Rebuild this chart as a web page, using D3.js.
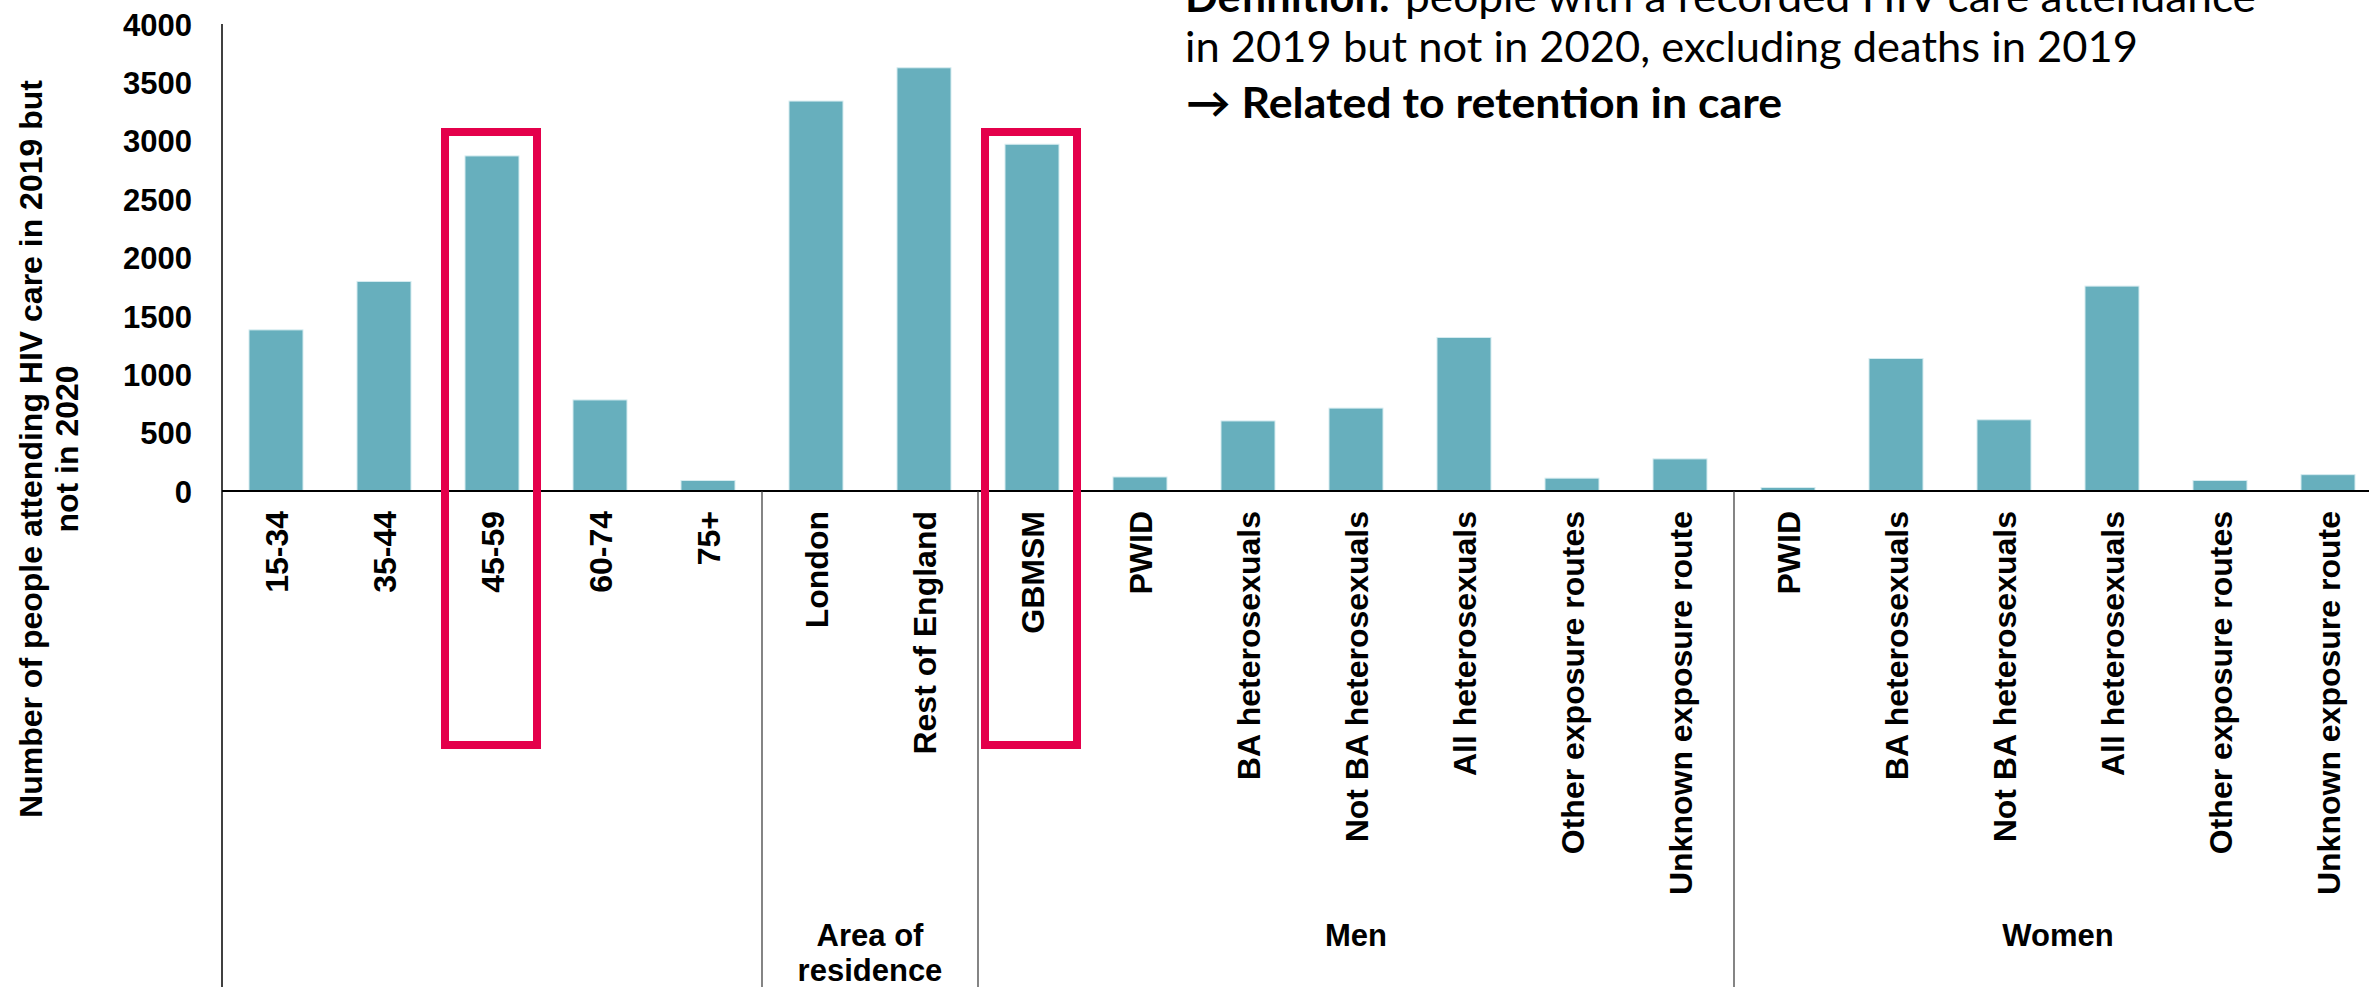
<!DOCTYPE html>
<html>
<head>
<meta charset="utf-8">
<script src="https://cdn.jsdelivr.net/npm/d3@7"></script>
<style>
  html, body { margin: 0; padding: 0; background: #ffffff; }
  svg { display: block; }
</style>
</head>
<body>
<script>
// ---------- data ----------
const categories = ["15-34", "35-44", "45-59", "60-74", "75+",
  "London", "Rest of England",
  "GBMSM", "PWID", "BA heterosexuals", "Not BA heterosexuals", "All heterosexuals", "Other exposure routes", "Unknown exposure route",
  "PWID", "BA heterosexuals", "Not BA heterosexuals", "All heterosexuals", "Other exposure routes", "Unknown exposure route"];
const values = [1380, 1795, 2870, 780, 90,
  3340, 3625,
  2970, 120, 600, 710, 1315, 110, 275,
  30, 1135, 610, 1755, 90, 140];
const groupNames = ["", "Area of\nresidence", "Men", "Women"];
const groupSizes = [5, 2, 7, 6];
const highlighted = [2, 7];           // 45-59 and GBMSM
const yTicks = [0, 500, 1000, 1500, 2000, 2500, 3000, 3500, 4000];
const yTitle = ["Number of people attending HIV care in 2019 but", "not in 2020"];
const noteLine1Bold = "Definition:";
const noteLine1 = "people with a recorded HIV care attendance";
const noteLine2 = "in 2019 but not in 2020, excluding deaths in 2019";
const noteLine3 = "\u2192 Related to retention in care";

// ---------- layout ----------
const W = 2369, H = 987;
const axisX = 222, baseY = 491, topY = 24;
const font = "'Liberation Sans', Arial, Helvetica, sans-serif";
const barColor = "#67AFBD";
const red = "#E4004B";

const svg = d3.select("body").append("svg").attr("width", W).attr("height", H)
  .style("font-family", font);
svg.append("rect").attr("width", W).attr("height", H).attr("fill", "#fff");

const ids = categories.map((d, i) => i);
const x = d3.scaleBand().domain(ids).range([axisX, axisX + 20 * 108])
  .paddingInner(0.5).paddingOuter(0.25);
const y = d3.scaleLinear().domain([0, 4000]).range([baseY, topY]);
const halfGap = (x.step() - x.bandwidth()) / 2;

// bars
svg.append("g").selectAll("rect").data(ids).join("rect")
  .attr("x", i => x(i))
  .attr("y", i => y(values[i]))
  .attr("width", x.bandwidth())
  .attr("height", i => y(0) - y(values[i]))
  .attr("fill", barColor)
  .attr("stroke", "#d6ecf0").attr("stroke-width", 1);

// y axis (labels)
const yAxis = d3.axisLeft(y).tickValues(yTicks).tickSize(0).tickPadding(30).tickFormat(d3.format("d"));
const gy = svg.append("g").attr("transform", `translate(${axisX},0)`).call(yAxis);
gy.select(".domain").remove();
gy.selectAll("text").attr("font-size", 31).attr("font-weight", "bold")
  .attr("font-family", font).attr("fill", "#000").attr("dy", "0.36em");

// x axis (labels)
const xAxis = d3.axisBottom(x).tickSize(0).tickFormat(i => categories[i]);
const gx = svg.append("g").attr("transform", `translate(0,${baseY})`).call(xAxis);
gx.select(".domain").remove();
gx.selectAll("text")
  .attr("font-size", 32).attr("font-weight", "bold").attr("font-family", font).attr("fill", "#000")
  .attr("transform", "rotate(-90)")
  .attr("x", -20).attr("y", 0).attr("dy", "0.36em")
  .attr("text-anchor", "end");

// axis lines
svg.append("line").attr("x1", axisX).attr("x2", W).attr("y1", baseY).attr("y2", baseY)
  .attr("stroke", "#000").attr("stroke-width", 2);
svg.append("line").attr("x1", axisX).attr("x2", axisX).attr("y1", topY).attr("y2", H)
  .attr("stroke", "#000").attr("stroke-width", 1.5);

// group separators and labels
let start = 0;
groupSizes.forEach((n, gi) => {
  const x0 = x(start) - halfGap;
  const x1 = x(start + n - 1) + x.bandwidth() + halfGap;
  if (gi > 0) {
    svg.append("line").attr("x1", x0).attr("x2", x0).attr("y1", baseY).attr("y2", H)
      .attr("stroke", "#333").attr("stroke-width", 1.2);
  }
  const lines = groupNames[gi].split("\n");
  lines.forEach((t, li) => {
    if (!t) return;
    svg.append("text").attr("x", (x0 + x1) / 2).attr("y", 946 + li * 35)
      .attr("text-anchor", "middle").attr("font-size", 31).attr("font-weight", "bold")
      .attr("fill", "#000").text(t);
  });
  start += n;
});

// highlight boxes
svg.append("g").selectAll("rect").data(highlighted).join("rect")
  .attr("x", i => x(i) - halfGap + 7)
  .attr("y", 132)
  .attr("width", x.step() - 16)
  .attr("height", 613)
  .attr("fill", "none").attr("stroke", red).attr("stroke-width", 8);

// y title
yTitle.forEach((t, li) => {
  svg.append("text")
    .attr("transform", `translate(${42 + li * 36},449) rotate(-90)`)
    .attr("text-anchor", "middle").attr("font-size", 32).attr("font-weight", "bold")
    .attr("fill", "#000").text(t);
});

// note text (top right)
const noteFont = "Lato, 'Open Sans', sans-serif";
const note = svg.append("g").style("font-family", noteFont).attr("fill", "#000");
note.append("text").attr("x", 1185).attr("y", 12).attr("font-size", 42).attr("font-weight", "bold")
  .attr("textLength", 205).attr("lengthAdjust", "spacingAndGlyphs").text(noteLine1Bold);
note.append("text").attr("x", 1405).attr("y", 12).attr("font-size", 42)
  .attr("textLength", 851).attr("lengthAdjust", "spacingAndGlyphs").text(noteLine1);
note.append("text").attr("x", 1185).attr("y", 62).attr("font-size", 42)
  .attr("textLength", 953).attr("lengthAdjust", "spacingAndGlyphs").text(noteLine2);
note.append("text").attr("x", 1186).attr("y", 118).attr("font-size", 42).attr("font-weight", "bold")
  .attr("textLength", 596).attr("lengthAdjust", "spacingAndGlyphs").text(noteLine3);
</script>
</body>
</html>
